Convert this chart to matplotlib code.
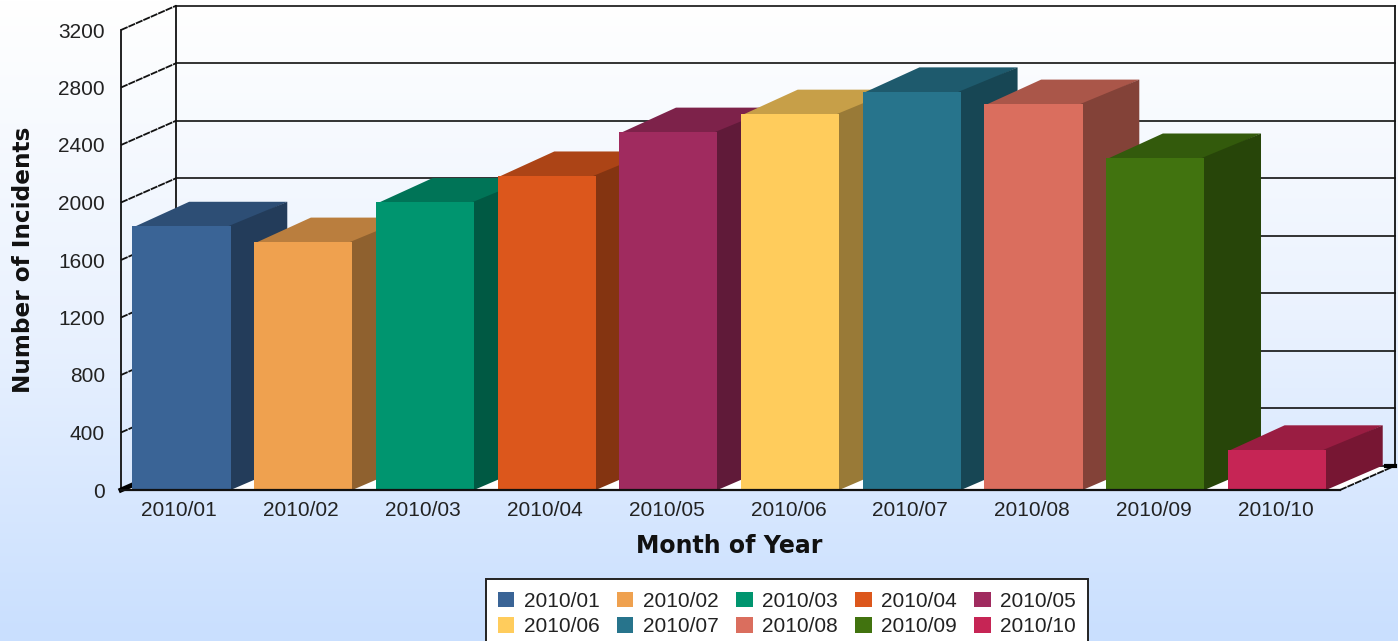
#!/usr/bin/env python3
# -*- coding: utf-8 -*-

import numpy as np
import matplotlib
matplotlib.use("Agg")
import matplotlib.pyplot as plt
from matplotlib.colors import LinearSegmentedColormap, to_rgb
from matplotlib.patches import Patch, Polygon

months = ["2010/01", "2010/02", "2010/03", "2010/04", "2010/05",
          "2010/06", "2010/07", "2010/08", "2010/09", "2010/10"]
incidents = [1835, 1725, 2000, 2185, 2490, 2615, 2770, 2685, 2310, 280]
colors = ["#3A6496", "#EFA14F", "#00956F", "#DC571C", "#A02B5F",
          "#FFCC5C", "#27748C", "#DA6E5E", "#41730F", "#C62555"]
y_ticks = [0, 400, 800, 1200, 1600, 2000, 2400, 2800, 3200]

W, H = 1398, 641
DX = 0.455   # depth of the 3d box in x units
DY = 170     # depth of the 3d box in y units
BAR_DX = 0.465
BAR_W = 0.805
BAR_PAD = 0.094
SLOT = 0.9985
DIAG = (0, (4, 0.5))


def shade(color, k):
    return tuple(c * k for c in to_rgb(color))


plt.rcParams["font.family"] = ["Liberation Sans", "DejaVu Sans"]
fig = plt.figure(figsize=(W / 100, H / 100), dpi=100)

# background gradient
bg = fig.add_axes([0, 0, 1, 1], zorder=0)
cmap = LinearSegmentedColormap.from_list("bg", ["#FFFFFF", "#EAF2FE", "#C9DFFF"])
bg.imshow(np.linspace(0, 1, 256).reshape(-1, 1), aspect="auto", cmap=cmap)
bg.axis("off")

ax = fig.add_axes([121 / W, (H - 490) / H, (1340 - 121) / W, 460 / H], zorder=1)
ax.patch.set_alpha(0)
ax.set_xlim(0, len(months))
ax.set_ylim(0, 3200)
for s in ax.spines.values():
    s.set_visible(False)

# floor
ax.add_patch(Polygon([(0, 0), (10, 0), (10 + DX, DY), (DX, DY)], fc="white", ec="none",
                     clip_on=False, zorder=1))
ax.plot([10, 10 + DX], [0, DY], color="#111111", lw=1.3, ls=DIAG, clip_on=False, zorder=1)

# walls and grid
for t in y_ticks:
    ax.plot([0, DX], [t, t + DY], color="#111111", lw=1.3, ls=DIAG, clip_on=False, zorder=2)
    ax.plot([DX, 10 + DX], [t + DY, t + DY], color="#111111", lw=1.2, clip_on=False, zorder=2)
ax.plot([DX, DX], [DY, 3200 + DY], color="#111111", lw=1.3, clip_on=False, zorder=2)
ax.plot([10 + DX, 10 + DX], [DY, 3200 + DY], color="#111111", lw=1.3, clip_on=False, zorder=2)
ax.plot([0, 0], [0, 3200], color="#111111", lw=1.3, clip_on=False, zorder=2)
ax.plot([10 + DX - 0.08, 10 + DX], [DY, DY], color="black", lw=3, clip_on=False, zorder=2)
ax.plot([0, DX * 0.35], [0, DY * 0.35], color="black", lw=3.5, clip_on=False, zorder=2)

# bars, left to right so the next front covers the side of the previous one
# top and side slip a little under the front face so no seam shows
for i, (v, c) in enumerate(zip(incidents, colors)):
    x0 = i * SLOT + BAR_PAD
    x1 = x0 + BAR_W
    z = 3 + i
    ax.add_patch(Polygon([(x0, v - 10), (x1, v - 10), (x1 + BAR_DX, v + DY), (x0 + BAR_DX, v + DY)],
                         fc=shade(c, 0.78), ec="none", clip_on=False, zorder=z))
    ax.add_patch(Polygon([(x1 - 0.02, 0), (x1, 0), (x1 + BAR_DX, DY), (x1 + BAR_DX, v + DY), (x1 - 0.02, v)],
                         fc=shade(c, 0.6), ec="none", clip_on=False, zorder=z + 0.1))
    ax.bar(x0, v, width=BAR_W, align="edge", color=c, zorder=z + 0.2, clip_on=False)

ax.plot([0, 10], [0, 0], color="#111111", lw=1.6, clip_on=False, zorder=20)

ax.set_yticks(y_ticks)
ax.set_xticks(np.arange(len(months)) + 0.475)
ax.set_xticklabels(months)
ax.tick_params(axis="both", length=0, labelsize=15, colors="#222222")
ax.tick_params(axis="y", pad=11.5)
ax.tick_params(axis="x", pad=8)

fig.text(24 / W, 1 - 260 / H, "Number of Incidents", rotation=90, ha="center", va="center",
         family="DejaVu Sans", weight="bold", fontsize=16.7, color="#111111")
fig.text(729 / W, 1 - 546 / H, "Month of Year", ha="center", va="center",
         family="DejaVu Sans", weight="bold", fontsize=17, color="#111111")

# legend fills by column, so hand the entries over in that order to read by row
order = [j for col in range(5) for j in (col, col + 5)]
handles = [Patch(fc=colors[j], ec="none", label=months[j]) for j in order]
leg = fig.legend(handles=handles, ncol=5, loc="upper center", bbox_to_anchor=(787 / W, 1 - 579 / H),
                 fontsize=15, fancybox=False, framealpha=1, edgecolor="#222222",
                 handlelength=0.78, handleheight=0.78, handletextpad=0.45, columnspacing=0.85,
                 labelspacing=0.3, borderpad=0.6, borderaxespad=0)
leg.get_frame().set_linewidth(1.4)
for t in leg.get_texts():
    t.set_color("#222222")

fig.savefig("out.png", dpi=100)
